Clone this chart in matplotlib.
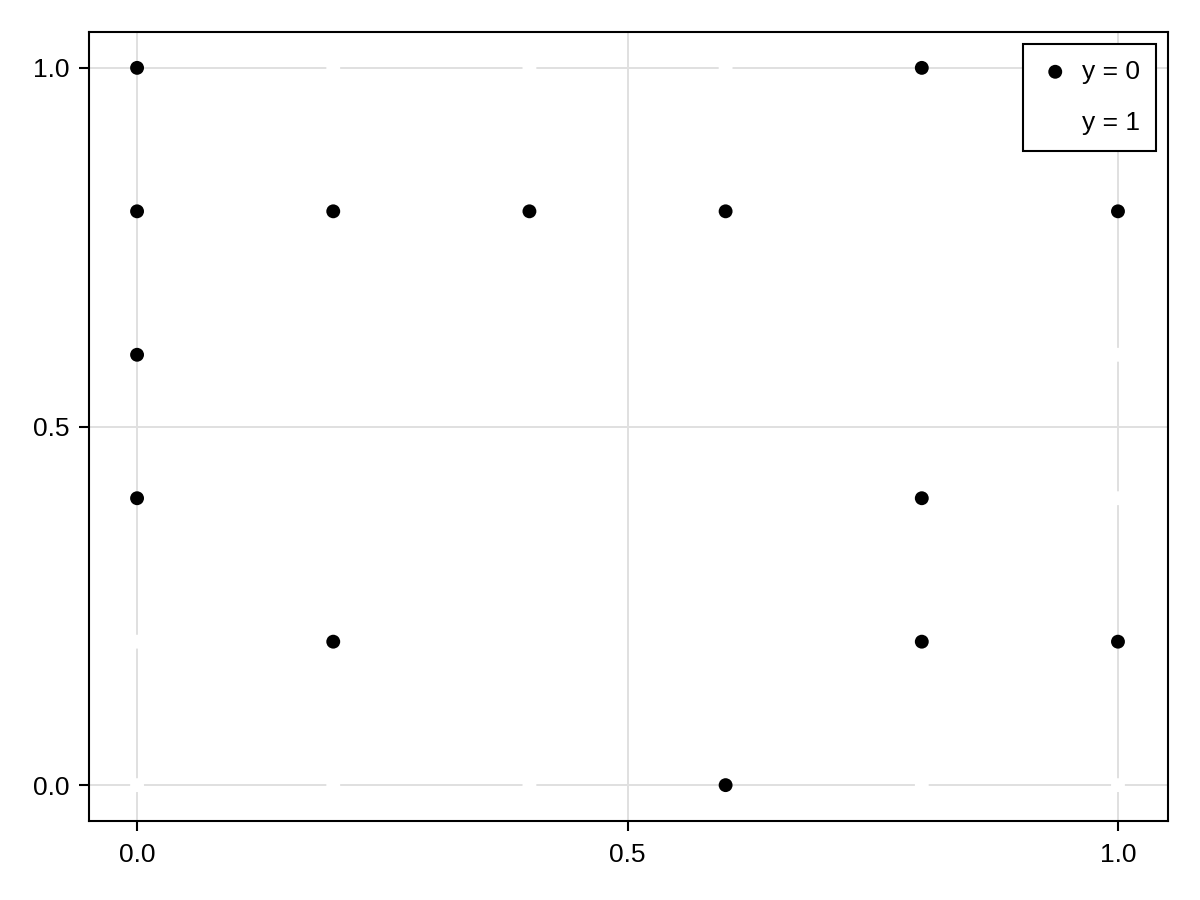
import matplotlib
matplotlib.use("Agg")
import matplotlib.pyplot as plt

# class y = 0 (black) points
x0 = [0.0, 0.8, 0.0, 0.2, 0.4, 0.6, 1.0, 0.0, 0.0, 0.8, 0.2, 0.8, 1.0, 0.6]
y0 = [1.0, 1.0, 0.8, 0.8, 0.8, 0.8, 0.8, 0.6, 0.4, 0.4, 0.2, 0.2, 0.2, 0.0]
# class y = 1 (white) points, visible only where they cut gridlines
x1 = [0.2, 0.4, 0.6, 1.0, 1.0, 0.0, 0.0, 0.2, 0.4, 0.8, 1.0]
y1 = [1.0, 1.0, 1.0, 0.6, 0.4, 0.2, 0.0, 0.0, 0.0, 0.0, 0.0]
labels = ["y = 0", "y = 1"]
ticks = [0.0, 0.5, 1.0]
tick_labels = ["0.0", "0.5", "1.0"]

plt.rcParams['font.family'] = ['Liberation Sans', 'DejaVu Sans']

fig = plt.figure(figsize=(12, 9), dpi=100)
ax = fig.add_axes([89/1200, 1-821/900, (1168-89)/1200, (821-32)/900])

ax.scatter(x0, y0, s=100, color='black', edgecolors='none', label=labels[0], zorder=3)
ax.scatter(x1, y1, s=100, color='white', edgecolors='none', label=labels[1], zorder=3)

ax.set_xlim(-0.049, 1.051)
ax.set_ylim(-0.05, 1.05)
ax.set_xticks(ticks)
ax.set_xticklabels(tick_labels)
ax.set_yticks(ticks)
ax.set_yticklabels(tick_labels)
ax.set_axisbelow(True)
ax.grid(True, color='#e0e0e0', linewidth=1.4)
for sp in ax.spines.values():
    sp.set_linewidth(1.5)
ax.tick_params(direction='out', length=7, width=1.5, labelsize=19)
ax.tick_params(axis='x', pad=8.5)
ax.tick_params(axis='y', pad=7)

leg = ax.legend(loc='upper right', bbox_to_anchor=(1, 1), borderaxespad=0.45,
                fontsize=19, frameon=True, fancybox=False, edgecolor='black',
                handletextpad=0.4, labelspacing=1.05, borderpad=0.6, handlelength=1.25,
                markerscale=1.0)
leg.get_frame().set_linewidth(1.5)
leg.get_frame().set_alpha(1)

fig.savefig("out.png", dpi=100)
